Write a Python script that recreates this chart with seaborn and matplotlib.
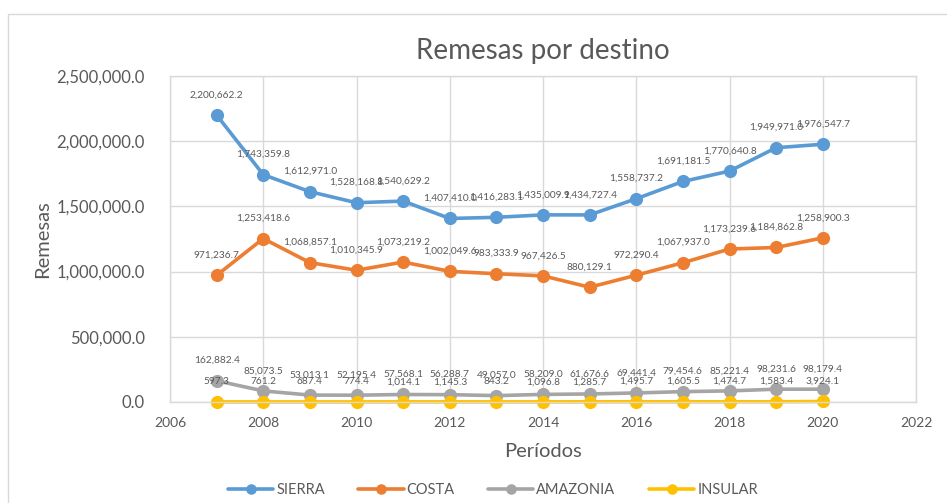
import numpy as np
import pandas as pd
import matplotlib
matplotlib.use("Agg")
import matplotlib.pyplot as plt
import seaborn as sns
from matplotlib.patches import Rectangle
from matplotlib.ticker import FuncFormatter

# Remesas por destino, 2007-2020
years = [2007, 2008, 2009, 2010, 2011, 2012, 2013, 2014, 2015, 2016, 2017, 2018, 2019, 2020]
sierra = [2200662.2, 1743359.8, 1612971.0, 1528168.8, 1540629.2, 1407410.0, 1416283.1,
          1435009.9, 1434727.4, 1558737.2, 1691181.5, 1770640.8, 1949971.0, 1976547.7]
costa = [971236.7, 1253418.6, 1068857.1, 1010345.9, 1073219.2, 1002049.6, 983333.9,
         967426.5, 880129.1, 972290.4, 1067937.0, 1173239.6, 1184862.8, 1258900.3]
amazonia = [162882.4, 85073.5, 53013.1, 52195.4, 57568.1, 56288.7, 49057.0,
            58209.0, 61676.6, 69441.4, 79454.6, 85221.4, 98231.6, 98179.4]
insular = [597.3, 761.2, 687.4, 774.4, 1014.1, 1145.3, 843.2,
           1096.8, 1285.7, 1495.7, 1605.5, 1474.7, 1583.4, 3924.1]

series = {"SIERRA": sierra, "COSTA": costa, "AMAZONIA": amazonia, "INSULAR": insular}
colors = {"SIERRA": "#5B9BD5", "COSTA": "#ED7D31", "AMAZONIA": "#A5A5A5", "INSULAR": "#FFC000"}

df = pd.DataFrame([
    {"Año": y, "Remesas": v, "Destino": name}
    for name, vals in series.items() for y, v in zip(years, vals)
])

sns.set_style("white")
plt.rcParams["font.family"] = ["Lato", "DejaVu Sans"]
grey = "#595959"
gridc = "#D9D9D9"

fig = plt.figure(figsize=(9.47, 5.03), dpi=100)
ax = fig.add_axes([170 / 947, 1 - 402 / 503, (916 - 170) / 947, (402 - 76) / 503])

sns.lineplot(data=df, x="Año", y="Remesas", hue="Destino", palette=colors,
             marker="o", markersize=9.5, markeredgewidth=0, linewidth=2.6, ax=ax)
for line in ax.lines:
    line.set_clip_on(False)

for name, vals in series.items():
    for y, v in zip(years, vals):
        ax.annotate(f"{v:,.1f}", (y, v), xytext=(0, 14.5), textcoords="offset points",
                    ha="center", va="center", fontsize=7.3, color=grey)

ax.set_xlim(2006, 2022)
ax.set_ylim(0, 2500000)
ax.set_xticks(range(2006, 2023, 2))
ax.set_yticks(np.arange(0, 2500001, 500000))
ax.yaxis.set_major_formatter(FuncFormatter(lambda v, p: f"{v:,.1f}"))
ax.tick_params(axis="y", labelsize=12, colors=grey, length=0, pad=18)
ax.tick_params(axis="x", labelsize=10, colors=grey, length=0, pad=11)
ax.grid(True, color=gridc, linewidth=1)
for s in ax.spines.values():
    s.set_color(gridc)
    s.set_linewidth(1)

ax.set_title("Remesas por destino", fontsize=20, color=grey, pad=12)
ax.set_xlabel("Períodos", fontsize=14.5, color=grey, labelpad=10)
ax.set_ylabel("Remesas", fontsize=14.5, color=grey, labelpad=4)

leg = ax.legend(loc="center", bbox_to_anchor=(0.433, -0.27), ncol=4, frameon=False,
                fontsize=10.5, handlelength=3.1, columnspacing=2.3, handletextpad=0.2,
                markerscale=0.8)
for t in leg.get_texts():
    t.set_color(grey)

# outer chart border
fig.patches.append(Rectangle((8 / 947, -0.01), 1.0, 1 - 14 / 503 + 0.01,
                             transform=fig.transFigure, fill=False,
                             edgecolor=gridc, linewidth=1))

fig.savefig("out.png", dpi=100)
